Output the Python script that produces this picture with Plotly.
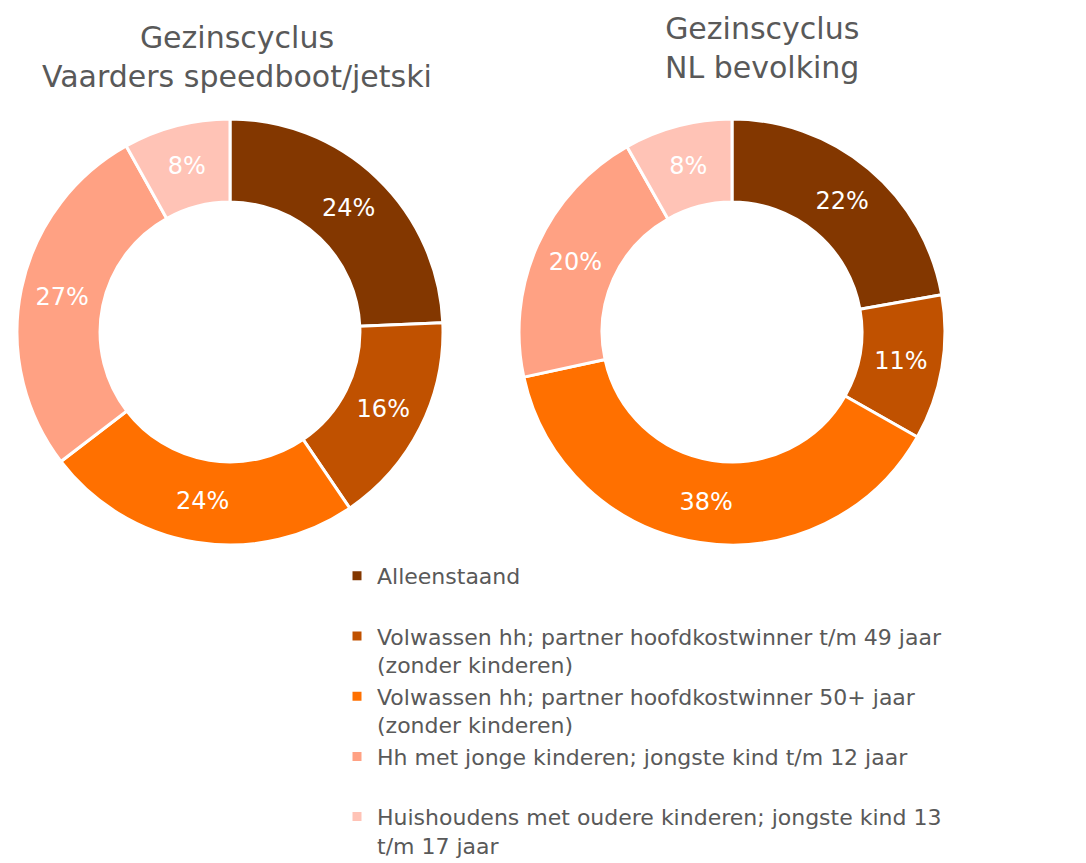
import plotly.graph_objects as go

categories = [
    "Alleenstaand<br> ",
    "Volwassen hh; partner hoofdkostwinner t/m 49 jaar<br>(zonder kinderen)",
    "Volwassen hh; partner hoofdkostwinner 50+ jaar<br>(zonder kinderen)",
    "Hh met jonge kinderen; jongste kind t/m 12 jaar<br> ",
    "Huishoudens met oudere kinderen; jongste kind 13<br>t/m 17 jaar",
]

vaarders = [24.3, 16.2, 24.1, 27.3, 8.1]
nl_bevolking = [22.2, 11.0, 38.4, 20.2, 8.2]

titles = ["Gezinscyclus<br>Vaarders speedboot/jetski", "Gezinscyclus<br>NL bevolking"]

colors = ["#833700", "#C05100", "#FF7000", "#FFA183", "#FFC3B6"]
FONT = "DejaVu Sans"
GREY = "#595959"

W, H = 1086, 863
# the page body adds an 8px margin, so place things 8px up/left
OFF = 8


def px(x):
    return (x - OFF) / W


def py(y):
    return 1 - (y - OFF) / H


def domain(cx, cy, r):
    return dict(x=[px(cx - r), px(cx + r)], y=[py(cy + r), py(cy - r)])


fig = go.Figure()
for values, cx in [(vaarders, 230), (nl_bevolking, 732)]:
    fig.add_trace(
        go.Pie(
            labels=categories,
            values=values,
            hole=0.61,
            sort=False,
            direction="clockwise",
            rotation=0,
            marker=dict(colors=colors, line=dict(color="white", width=3)),
            texttemplate="%{percent:.0%}",
            textposition="inside",
            insidetextorientation="horizontal",
            textfont=dict(family=FONT, size=24, color="white"),
            domain=domain(cx, 332, 213),
            hoverinfo="label+percent",
        )
    )

for text, cx, cy in [(titles[0], 237, 57), (titles[1], 762, 48)]:
    fig.add_annotation(x=px(cx), y=py(cy), xref="paper", yref="paper",
                       xanchor="center", yanchor="middle",
                       text=text, showarrow=False, borderpad=0,
                       font=dict(family=FONT, size=30, color=GREY))

fig.update_layout(
    width=W,
    height=H,
    margin=dict(l=0, r=0, t=0, b=0, autoexpand=False),
    paper_bgcolor="white",
    plot_bgcolor="white",
    legend=dict(
        x=px(337),
        y=py(555),
        xanchor="left",
        yanchor="top",
        valign="top",
        font=dict(family=FONT, size=22, color=GREY),
        bgcolor="rgba(0,0,0,0)",
        itemwidth=30,
        tracegroupgap=0,
    ),
)

fig.write_html("out.html")
